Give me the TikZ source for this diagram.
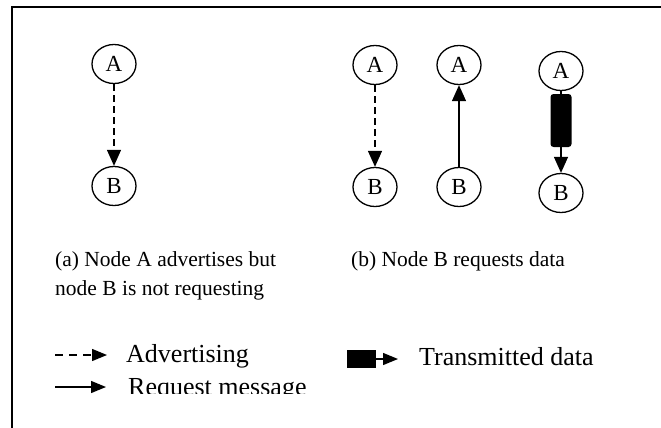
\documentclass[tikz,border=0pt]{standalone}
\usepackage{fontspec}
\setmainfont{Liberation Serif}
\usetikzlibrary{shapes.geometric,arrows.meta}

\begin{document}
\begin{tikzpicture}[x=1pt, y=-1pt,
  peer/.style={ellipse, draw, line width=1.3pt, minimum width=44pt, minimum height=39pt, inner sep=0pt, font=\fontsize{23}{23}\selectfont},
  adv/.style={line width=1.3pt, dash pattern=on 7pt off 4pt, -{Triangle[width=14pt,length=16pt]}},
  req/.style={line width=1.3pt, -{Triangle[width=14pt,length=16pt]}},
  ladv/.style={line width=1.3pt, dash pattern=on 8pt off 6pt, -{Triangle[width=12pt,length=15pt]}},
  lreq/.style={line width=1.3pt, -{Triangle[width=12pt,length=15pt]}},
  caption/.style={anchor=base west, inner sep=0pt, align=left, font=\fontsize{21.5}{29}\selectfont},
  legend/.style={anchor=base west, inner sep=0pt, font=\fontsize{26}{26}\selectfont}]

\useasboundingbox (0,0) rectangle (661,428);
\draw [line width=2pt] (12,428) -- (12,7) -- (661,7);

% (a) advertising only
\draw (114,64) node (a1) [peer] {A};
\draw (114,186) node (b1) [peer] {B};
\draw [adv] (a1) -- (b1);

% (b) request and data
\draw (375,65) node (a2) [peer] {A};
\draw (375,187) node (b2) [peer] {B};
\draw [adv] (a2) -- (b2);

\draw (459,65) node (a3) [peer] {A};
\draw (459,187) node (b3) [peer] {B};
\draw [req] (b3) -- (a3);

\draw (561,71) node (a4) [peer] {A};
\draw (561,193) node (b4) [peer] {B};
\draw (561,120.5) node (bar4) [rectangle, rounded corners=3pt, fill=black, minimum width=21pt, minimum height=53pt, inner sep=0pt] {};
\draw [line width=1.3pt] (a4) -- (bar4);
\draw [req] (bar4) -- (b4);

% last line of a node sits on the base anchor
\draw (55,295) node (capa) [caption] {(a) Node A advertises but\\node B is not requesting};
\draw (351,266) node (capb) [caption] {(b) Node B requests data};

% legend
\coordinate (l1s) at (55,355);
\coordinate (l1e) at (107,355);
\draw [ladv] (l1s) -- (l1e);
\draw (126,362) node (ltxt1) [legend] {Advertising};

\coordinate (l2s) at (55,387);
\coordinate (l2e) at (106,387);
\draw [lreq] (l2s) -- (l2e);
\begin{scope}
\clip (100,360) rectangle (340,393);
\draw (128,395) node (ltxt2) [legend] {Request message};
\end{scope}

\draw (361.5,359) node (lbox) [rectangle, fill=black, minimum width=29pt, minimum height=18pt, inner sep=0pt] {};
\coordinate (l3e) at (398,359);
\draw [lreq] (lbox) -- (l3e);
\draw (419,365) node (ltxt3) [legend] {Transmitted data};

\end{tikzpicture}
\end{document}
